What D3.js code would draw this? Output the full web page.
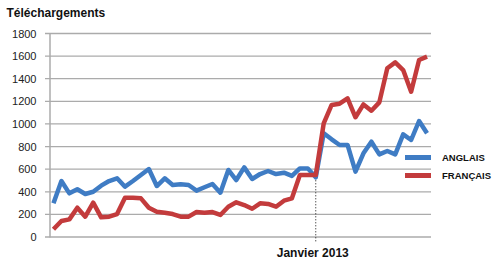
<!DOCTYPE html>
<html>
<head>
<meta charset="utf-8">
<script src="https://cdn.jsdelivr.net/npm/d3@7"></script>
<style>
  body { margin: 0; background: #fff; }
  svg { display: block; font-family: "Liberation Sans", Arial, sans-serif; }
</style>
</head>
<body>
<svg id="chart" width="500" height="276"></svg>
<script>
// monthly categories, avr. 2010 -> mars 2014
var months = [
  "2010-04","2010-05","2010-06","2010-07","2010-08","2010-09","2010-10","2010-11","2010-12",
  "2011-01","2011-02","2011-03","2011-04","2011-05","2011-06","2011-07","2011-08","2011-09",
  "2011-10","2011-11","2011-12","2012-01","2012-02","2012-03","2012-04","2012-05","2012-06",
  "2012-07","2012-08","2012-09","2012-10","2012-11","2012-12","2013-01","2013-02","2013-03",
  "2013-04","2013-05","2013-06","2013-07","2013-08","2013-09","2013-10","2013-11","2013-12",
  "2014-01","2014-02","2014-03"
];
var anglais = [
  298, 495, 386, 422, 380, 400, 454, 495, 519, 445, 495, 548, 601, 451, 519, 460,
  466, 460, 410, 440, 469, 392, 593, 504, 616, 513, 557, 584, 557, 569, 540, 607,
  607, 528, 917, 864, 814, 814, 578, 740, 843, 731, 761, 731, 908, 858, 1026, 917
];
var francais = [
  68, 142, 156, 259, 180, 304, 174, 180, 203, 348, 348, 342, 259, 224, 215, 203,
  180, 180, 221, 215, 221, 195, 268, 307, 283, 250, 298, 292, 268, 321, 342, 548,
  548, 548, 1005, 1168, 1179, 1227, 1059, 1173, 1117, 1191, 1492, 1545, 1477, 1285, 1566, 1595
];
var yTicks = [0, 200, 400, 600, 800, 1000, 1200, 1400, 1600, 1800];
var seriesNames = ["ANGLAIS", "FRANÇAIS"];
var colors = ["#3f7cc4", "#c33b3c"];
var markerMonth = "2013-01";
var markerLabel = "Janvier 2013";

var svg = d3.select("#chart");

var x = d3.scalePoint().domain(months).range([49.5, 431]).padding(0.5);
var y = d3.scaleLinear().domain([0, 1800]).range([237, 33.5]);

// grid lines
svg.append("g")
  .selectAll("line")
  .data(yTicks).enter()
  .append("line")
  .attr("x1", 45).attr("x2", 431)
  .attr("y1", d => y(d)).attr("y2", d => y(d))
  .attr("stroke", "#ababab")
  .attr("stroke-width", 1.3);

// y axis
var yAxis = d3.axisLeft(y).tickValues(yTicks).tickSize(0).tickPadding(13)
  .tickFormat(d3.format("d"));
var gy = svg.append("g")
  .attr("transform", "translate(49.5,0)")
  .call(yAxis);
gy.select(".domain").attr("stroke", "#ababab").attr("stroke-width", 1.5);
gy.selectAll("text")
  .attr("font-size", 11)
  .attr("fill", "#222")
  .style("font-family", "Liberation Sans, Arial, sans-serif");

svg.append("text")
  .attr("x", 6.5).attr("y", 17)
  .attr("font-size", 12).attr("font-weight", "bold").attr("fill", "#111")
  .text("Téléchargements");

// marker
var mi = months.indexOf(markerMonth);
svg.append("line")
  .attr("x1", x(markerMonth)).attr("x2", x(markerMonth))
  .attr("y1", y(anglais[mi])).attr("y2", 243)
  .attr("stroke", "#111").attr("stroke-width", 1)
  .attr("stroke-dasharray", "1,2");
svg.append("text")
  .attr("x", x(markerMonth) - 3).attr("y", 257)
  .attr("text-anchor", "middle")
  .attr("font-size", 12).attr("font-weight", "bold").attr("fill", "#111")
  .text(markerLabel);

// lines
var line = d3.line()
  .x((d, i) => x(months[i]))
  .y(d => y(d));

[anglais, francais].forEach((s, k) => {
  svg.append("path")
    .datum(s)
    .attr("fill", "none")
    .attr("stroke", colors[k])
    .attr("stroke-width", 4.5)
    .attr("stroke-linejoin", "round")
    .attr("d", line);
});

// legend
var leg = svg.append("g");
seriesNames.forEach((name, k) => {
  var ly = 157.5 + k * 18;
  leg.append("line")
    .attr("x1", 405).attr("x2", 431)
    .attr("y1", ly).attr("y2", ly)
    .attr("stroke", colors[k]).attr("stroke-width", 5);
  leg.append("text")
    .attr("x", 442).attr("y", ly + 3.5)
    .attr("font-size", 9.5).attr("font-weight", "bold").attr("fill", "#111")
    .text(name);
});
</script>
</body>
</html>
